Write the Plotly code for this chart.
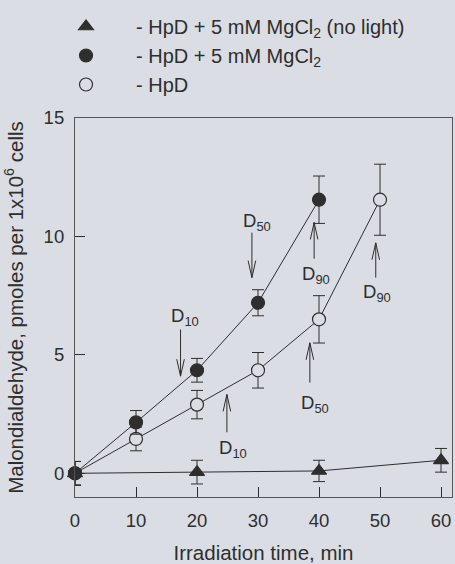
import plotly.graph_objects as go

# ---- data ----
time_nolight = [0, 20, 40, 60]
mda_nolight = [0.0, 0.05, 0.1, 0.55]
err_nolight = [0.5, 0.5, 0.45, 0.5]

time_mg = [0, 10, 20, 30, 40]
mda_mg = [0.0, 2.15, 4.35, 7.2, 11.55]
err_mg = [0.5, 0.5, 0.5, 0.55, 1.0]

time_hpd = [0, 10, 20, 30, 40, 50]
mda_hpd = [0.0, 1.45, 2.9, 4.35, 6.5, 11.55]
err_hpd = [0.5, 0.5, 0.6, 0.75, 1.0, 1.5]

series_names = ["- HpD + 5 mM MgCl<sub>2</sub> (no light)",
                "- HpD + 5 mM MgCl<sub>2</sub>",
                "- HpD"]

x_ticks = [0, 10, 20, 30, 40, 50, 60]
y_ticks = [0, 5, 10, 15]

# dose markers: label, arrow x, arrow head y, arrow tail y, label x, label y
dose_labels = ["D<sub>10</sub>", "D<sub>50</sub>", "D<sub>90</sub>",
               "D<sub>90</sub>", "D<sub>50</sub>", "D<sub>10</sub>"]
dose_x = [17.3, 29.0, 39.2, 49.3, 38.5, 24.9]
dose_head = [4.1, 8.26, 10.59, 9.73, 5.51, 3.33]
dose_tail = [6.07, 10.16, 9.06, 8.26, 3.83, 1.73]
dose_lx = [18.0, 29.8, 39.5, 49.5, 39.3, 25.9]
dose_ly = [6.62, 10.63, 8.39, 7.63, 2.91, 1.01]

BG = "#dadde3"
INK = "#2e2e2e"
FONT = "Arial, Liberation Sans, sans-serif"

X_RANGE = [0, 61.8]
Y_RANGE = [-1, 15]
ML, MR, MT, MB = 75, 3, 118, 67
W, H = 455, 564
px_x = (X_RANGE[1] - X_RANGE[0]) / (W - ML - MR)   # data units per pixel
px_y = (Y_RANGE[1] - Y_RANGE[0]) / (H - MT - MB)

fig = go.Figure()

def add_series(x, y, err, name, symbol, fill, rank):
    fig.add_trace(go.Scatter(x=x, y=y, mode="lines", showlegend=False,
                             line=dict(color=INK, width=1), cliponaxis=False,
                             hoverinfo="skip"))
    fig.add_trace(go.Scatter(x=x, y=y, mode="markers", name=name, legendrank=rank,
                             legendgroup=str(rank), cliponaxis=False,
                             marker=dict(symbol=symbol, size=13, color=fill,
                                         line=dict(color=INK, width=1.2)),
                             error_y=dict(type="data", array=err, visible=True,
                                          color=INK, thickness=1, width=6)))

add_series(time_nolight, mda_nolight, err_nolight, series_names[0], "triangle-up", INK, 1)
add_series(time_hpd, mda_hpd, err_hpd, series_names[2], "circle", BG, 3)
add_series(time_mg, mda_mg, err_mg, series_names[1], "circle", INK, 2)

head_half_w = 3.8 * px_x
head_len = 17 * px_y
for lab, xa, yh, yt, lx, ly in zip(dose_labels, dose_x, dose_head, dose_tail, dose_lx, dose_ly):
    sgn = 1 if yt > yh else -1
    fig.add_shape(type="line", xref="x", yref="y", x0=xa, x1=xa, y0=yt, y1=yh,
                  line=dict(color=INK, width=1))
    fig.add_shape(type="path", xref="x", yref="y",
                  path=(f"M{xa - head_half_w},{yh + sgn * head_len} L{xa},{yh} "
                        f"L{xa + head_half_w},{yh + sgn * head_len}"),
                  line=dict(color=INK, width=1))
    fig.add_annotation(x=lx, y=ly, xref="x", yref="y", text=lab, showarrow=False,
                       font=dict(size=18.5, color=INK, family=FONT))

fig.update_layout(
    width=W, height=H,
    margin=dict(l=ML, r=MR, t=MT, b=MB, autoexpand=False),
    paper_bgcolor=BG, plot_bgcolor=BG,
    font=dict(family=FONT, color=INK, size=16),
    legend=dict(x=-0.1034, xanchor="left", y=1.2929, yanchor="top",
                bgcolor="rgba(0,0,0,0)", itemwidth=90,
                font=dict(size=20, color=INK, family=FONT),
                traceorder="grouped", tracegroupgap=0),
    xaxis=dict(range=X_RANGE, tickvals=x_ticks, ticks="inside", ticklen=10,
               automargin=False,
               tickcolor=INK, showgrid=False, zeroline=False, showline=True,
               linecolor="#555", linewidth=1.2, mirror=True,
               tickfont=dict(size=18.5, color=INK), ticklabelstandoff=7,
               title=dict(text="Irradiation time, min", font=dict(size=20.5, color=INK),
                          standoff=19)),
    yaxis=dict(range=Y_RANGE, tickvals=y_ticks, ticks="inside", ticklen=10,
               automargin=False,
               tickcolor=INK, showgrid=False, zeroline=False, showline=True,
               linecolor="#555", linewidth=1.2, mirror=True,
               tickfont=dict(size=18.5, color=INK), ticklabelstandoff=6,
               title=dict(text="Malondialdehyde, pmoles per 1x10<sup>6</sup> cells",
                          font=dict(size=20.5, color=INK), standoff=14)),
)

fig.write_html("out.html")
